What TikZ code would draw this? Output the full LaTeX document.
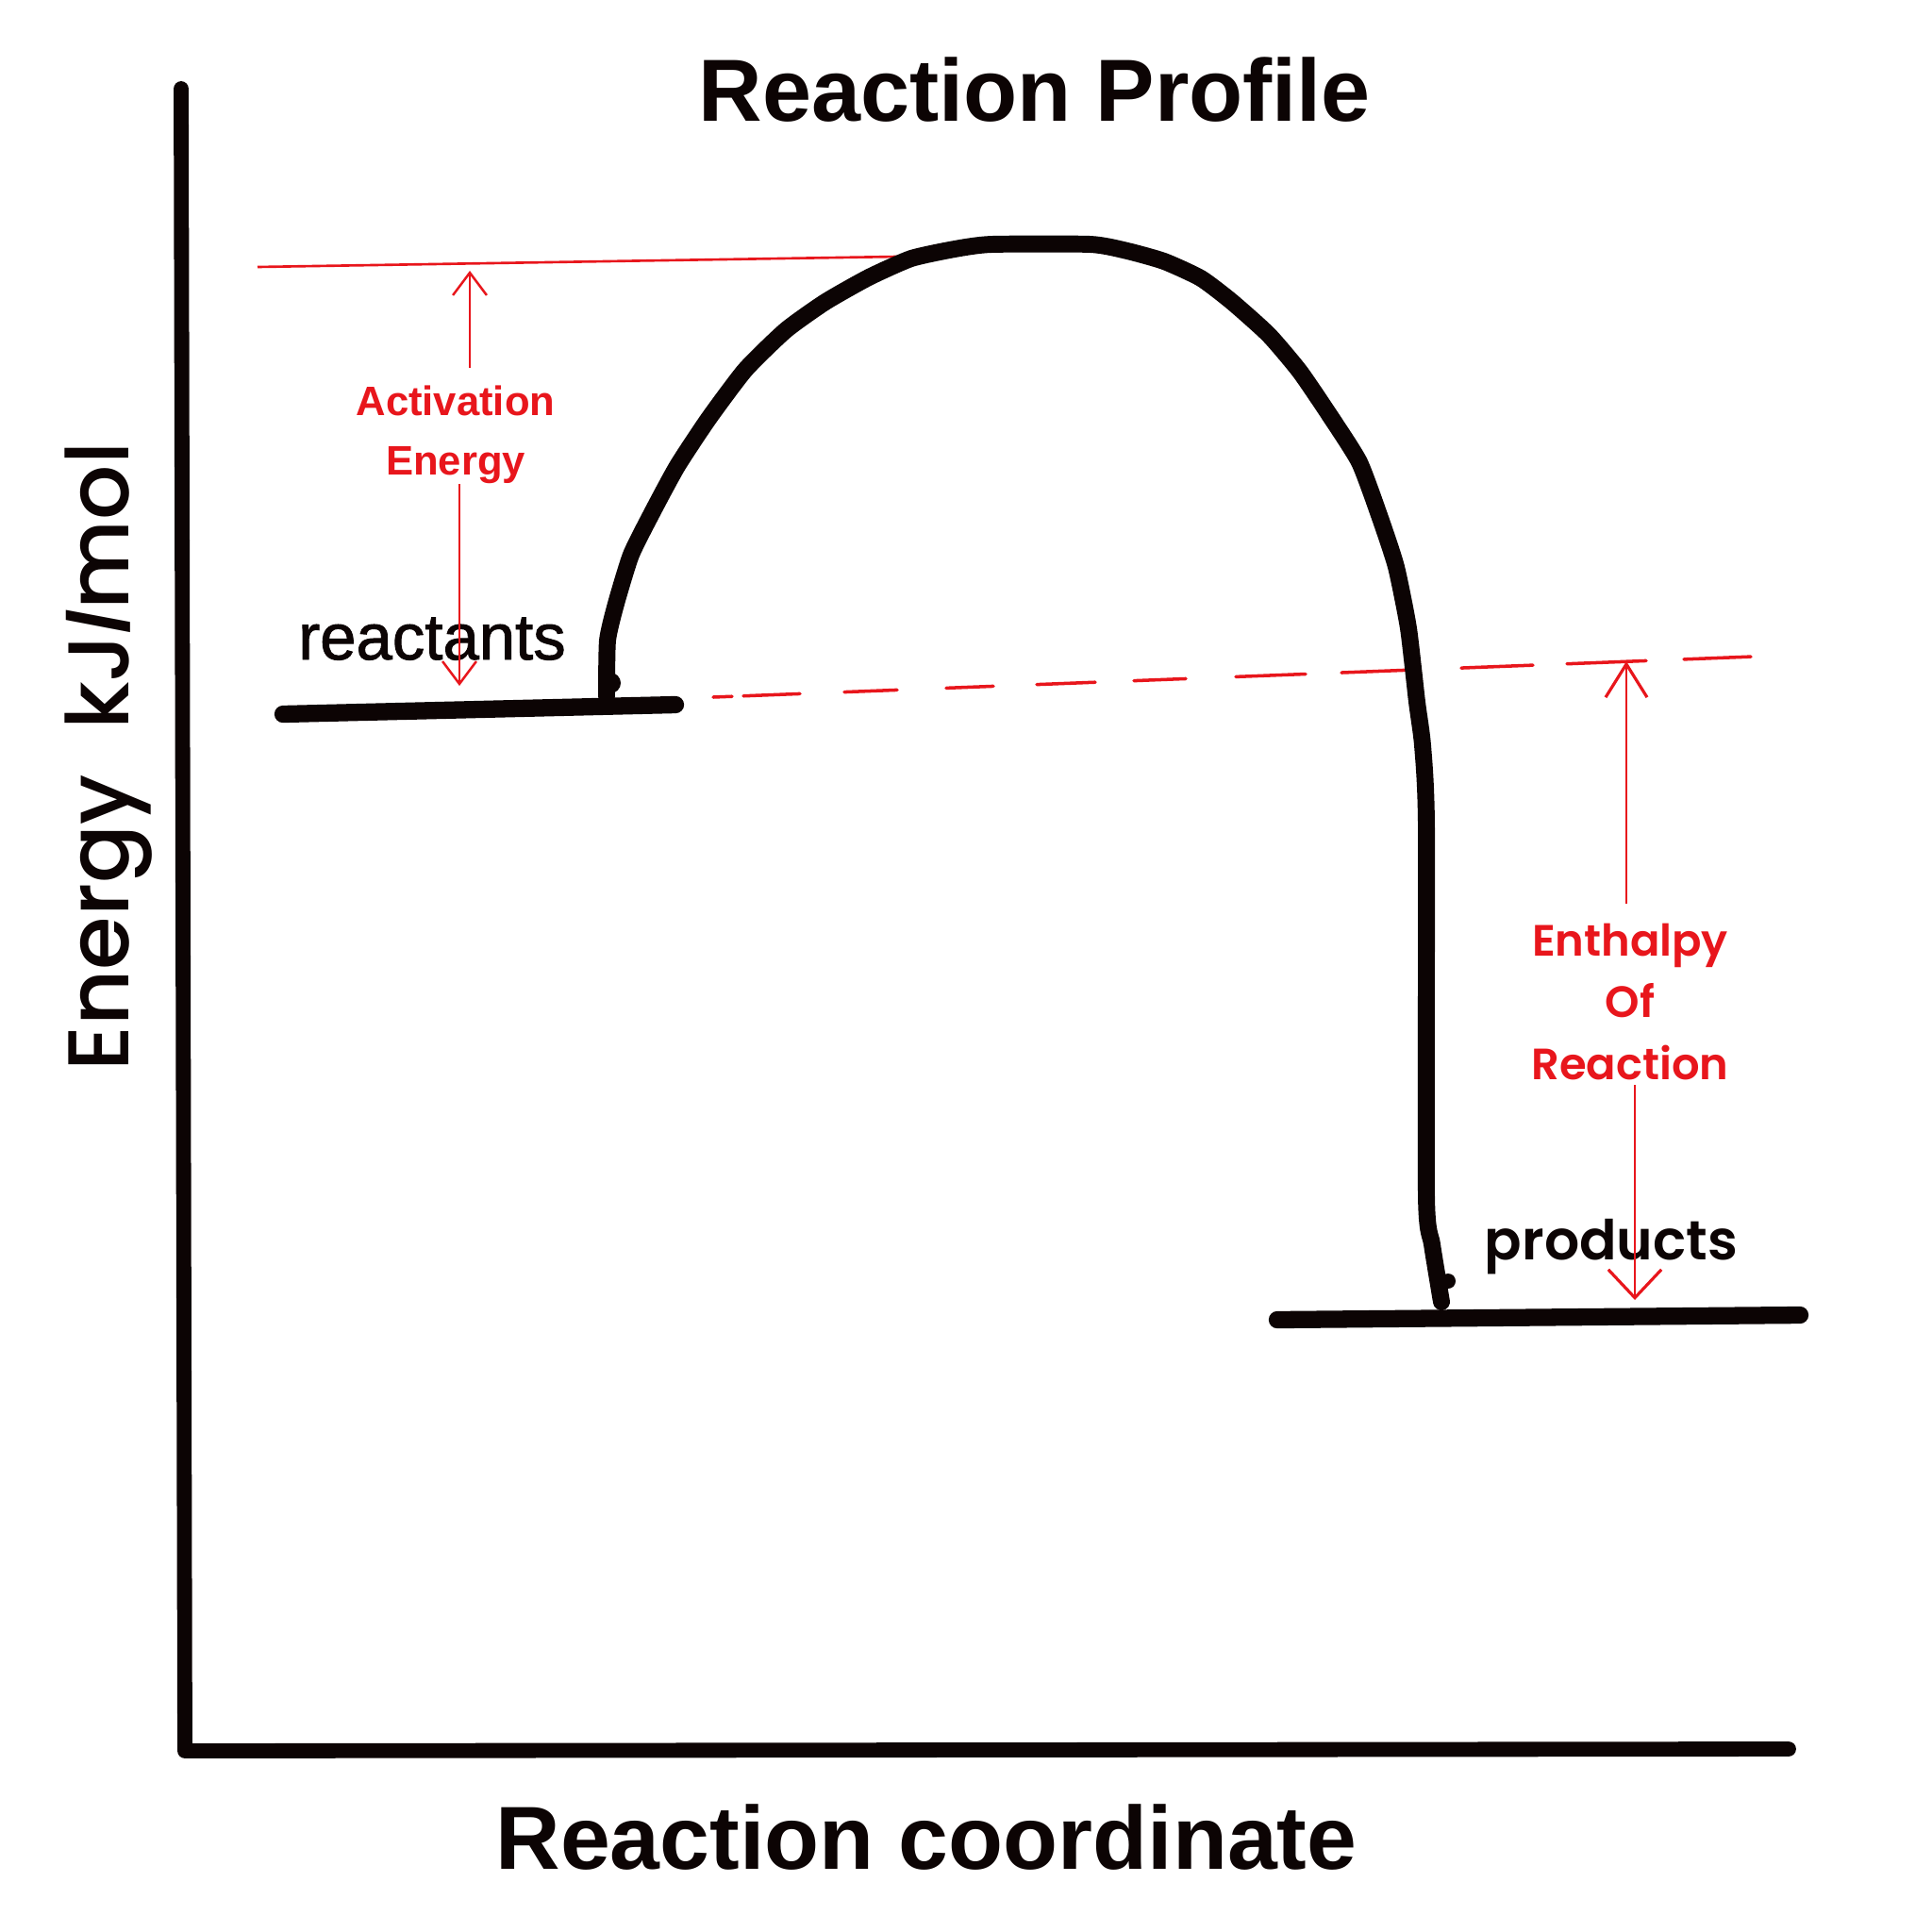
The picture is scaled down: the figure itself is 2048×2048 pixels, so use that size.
\documentclass[tikz,border=0pt]{standalone}
\usepackage{fontspec}
\setmainfont{Liberation Sans}
\newfontfamily\libmed{Liberation Sans}[FakeBold=1.3]
\newfontfamily\popmed{Poppins Medium}
\newfontfamily\popsemi{Poppins SemiBold}
\usetikzlibrary{arrows.meta,calc}
\definecolor{ink}{RGB}{12,4,4}
\definecolor{pen}{RGB}{232,22,28}
\begin{document}
\begin{tikzpicture}[x=0.01cm,y=-0.01cm,
  axisline/.style={draw=ink,line width=4.5pt,line cap=round,line join=round},
  curveline/.style={draw=ink,line width=5.1pt,line cap=round,line join=round},
  levelline/.style={draw=ink,line width=5.2pt,line cap=round},
  redline/.style={draw=pen,line width=0.75pt},
  reddash/.style={draw=pen,line width=1pt,line cap=round},
  rarrowa/.style={draw=pen,line width=0.7pt,-{Straight Barb[length=6.8pt,width=10.2pt,line width=0.7pt]}},
  rarrowb/.style={draw=pen,line width=0.7pt,-{Straight Barb[length=10pt,width=12.5pt,line width=0.9pt]}},
  rarrowc/.style={draw=pen,line width=0.7pt,-{Straight Barb[length=8.5pt,width=16pt,line width=0.9pt]}},
  titletext/.style={inner sep=0pt,anchor=base,text=ink,font=\fontsize{26.6}{32}\selectfont\bfseries},
  axistext/.style={inner sep=0pt,anchor=base,text=ink,font=\fontsize{27}{32}\selectfont\bfseries},
  ylabeltext/.style={inner sep=0pt,anchor=base,rotate=90,text=ink,font=\popmed\fontsize{26}{32}\selectfont},
  acttext/.style={inner sep=0pt,anchor=base,align=center,text=pen,font=\fontsize{12.4}{17.9}\selectfont\bfseries},
  enttext/.style={inner sep=0pt,anchor=base,align=center,text=pen,font=\popsemi\fontsize{13.2}{18.6}\selectfont},
  reactext/.style={inner sep=0pt,anchor=base,text=ink,font=\libmed\fontsize{19.6}{24}\selectfont},
  prodtext/.style={inner sep=0pt,anchor=base,text=ink,font=\popsemi\fontsize{16.6}{22}\selectfont}
]
\useasboundingbox (0,0) rectangle (2048,2048);
\fill[white] (0,0) rectangle (2048,2048);

% axes
\draw[axisline] (192,94) -- (196,1856) -- (1896,1854);

% texts
\node[titletext] (title) at (1097,128) {Reaction Profile};
\node[axistext] (xlabel) at (982,1981) {Reaction coordinate};
\node[ylabeltext] (ylabel) at (136,802) {Energy\ \ kJ{\normalfont\bfseries /}mol};

% red top line (activation level)
\draw[redline] (273,283) -- (951,272);

% dashed reactant level
\foreach \a/\b in {756/776,788/848,895/951,1003/1053,1099/1161,1202/1257,1310/1384,1422/1505,1549/1625,1661/1745,1785/1856}
  \draw[reddash] (\a,{739-0.039*(\a-756)}) -- (\b,{739-0.039*(\b-756)});

% energy curve
\draw[curveline] plot[smooth,tension=0.35] coordinates {
  (643,738) (644,679) (653,640) (669,588) (692,542) (718,494) (751,444)
  (790,392) (833,350) (875,320) (921,294) (966,274) (1012,264) (1051,259)
  (1156,259) (1195,266) (1234,277) (1273,295) (1306,320) (1345,355)
  (1378,394) (1410,441) (1441,490) (1463,549) (1480,601) (1493,666)
  (1502,744) (1508,790) (1512,875) (1512,1267) (1518,1319) (1528,1380)};
\fill[ink] (647,724) circle (11);
\fill[ink] (1535,1358) circle (8);

% levels
\draw[levelline] (300,757) -- (716,747);
\draw[levelline] (1354,1399) -- (1908,1394);

% level labels
\node[reactext] (reac) at (458,699) {reactants};
\node[prodtext] (prod) at (1708,1335) {products};

% activation energy
\node[acttext] (actlbl) at (483,503) {Activation\\Energy};
\coordinate (acttop) at (498,287);
\coordinate (actbot) at (487,727);
\draw[rarrowa] ($(actlbl.north -| acttop)+(0,-18)$) -- (acttop);
\draw[rarrowa] (actlbl.south -| actbot) -- (actbot);

% enthalpy of reaction
\node[enttext] (entlbl) at (1728,1144) {Enthalpy\\Of\\Reaction};
\coordinate (enttop) at (1724,701);
\coordinate (entbot) at (1733,1378);
\draw[rarrowb] ($(entlbl.north -| enttop)+(0,-20)$) -- (enttop);
\draw[rarrowc] ($(entlbl.south -| entbot)+(0,5)$) -- (entbot);
\end{tikzpicture}
\end{document}
